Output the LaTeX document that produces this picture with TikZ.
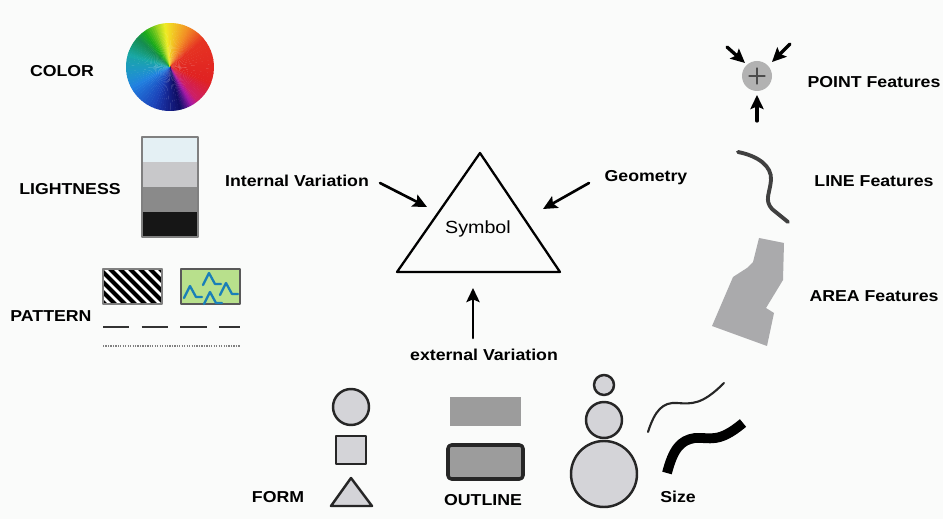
\documentclass[tikz,border=0pt]{standalone}
\usepackage{fontspec}
\setmainfont{Liberation Sans}
\newfontfamily\lblfont[FakeStretch=1.12]{Liberation Sans}
\usetikzlibrary{arrows.meta}
\definecolor{bgc}{RGB}{250,251,250}
\definecolor{lt1}{RGB}{228,240,244}
\definecolor{lt2}{RGB}{200,200,202}
\definecolor{lt3}{RGB}{138,138,138}
\definecolor{lt4}{RGB}{22,22,22}
\definecolor{patgreen}{RGB}{184,224,140}
\definecolor{patblue}{RGB}{26,127,184}
\definecolor{shpfill}{RGB}{212,212,216}
\definecolor{outfill}{RGB}{156,156,156}
\definecolor{areafill}{RGB}{170,170,172}
\tikzset{
  lbl/.style={font=\lblfont\bfseries\fontsize{9}{11}\selectfont, inner sep=0pt},
  shp/.style={draw=black!85, line width=1.4pt, fill=shpfill},
  arr/.style={->, line width=1.5pt},
}
\begin{document}
\begin{tikzpicture}[x=0.2mm, y=-0.2mm, line join=round, line cap=round, >={Stealth[length=8pt,width=7.5pt,inset=1.5pt]}]
	\fill[bgc] (0,0) rectangle (943,519);
	% left column
	\node[lbl] (color) at (62,71) {COLOR};
	\node[lbl] (light) at (70,189) {LIGHTNESS};
	\node[lbl] (patt) at (51,316) {PATTERN};
	\path (170,67) coordinate (W);
	\foreach \pa/\pb/\ha/\hb/\ba/\bb in {-5/25/55/30/0.95/0.95, 25/50/30/5/0.95/0.9, 50/110/5/0/0.9/0.88,
		110/140/0/-25/0.88/0.8, 140/165/-25/-120/0.8/0.4, 165/200/-120/-135/0.4/0.72,
		200/240/-135/-150/0.72/0.88, 240/280/-150/-175/0.88/0.68, 280/310/-175/-210/0.68/0.55,
		310/340/-210/-280/0.55/0.82, 340/355/-280/-305/0.82/0.95}
	\foreach \k in {0,...,9}{
		\pgfmathsetmacro\a{\pa+(\pb-\pa)*\k/10}
		\pgfmathsetmacro\da{(\pb-\pa)/10+0.6}
		\pgfmathsetmacro\hu{mod(\ha+(\hb-\ha)*\k/10+720,360)/360}
		\pgfmathsetmacro\br{\ba+(\bb-\ba)*\k/10}
		\definecolor{wc}{hsb}{\hu,0.85,\br}
		\fill[wc] (W) -- +(\a-90:44) -- +(\a+\da-90:44) -- cycle;
	}
	\foreach \c [count=\i from 0] in {lt1,lt2,lt3,lt4}
		\fill[\c] (142,137+25*\i) rectangle (198,162+25*\i);
	\draw[gray, line width=0.6pt] (142,137) rectangle (198,237);
	\begin{scope}
		\clip (103,269) rectangle (162,304);
		\fill[white] (103,269) rectangle (162,304);
		\foreach \s in {100,110,...,220}
		\draw[line width=2.3pt, line cap=butt] (\s-45,264) -- (\s,309);
	\end{scope}
	\draw[gray, line width=0.8pt] (103,269) rectangle (162,304);
	\draw[fill=patgreen, draw=gray!70!black, line width=0.8pt] (181,269) rectangle (240,304);
	\foreach \p in {(193,293),(212,280),(229,290),(213,299)}
	\draw[patblue, line width=1.3pt] \p ++(-9,5) -- ++(6,-12) -- ++(6,11) -- ++(6,0);
	\draw[line width=1.3pt, black!80, line cap=butt, dash pattern=on 15pt off 7pt] (103,327) -- (240,327);
	\draw[line width=1pt, gray, line cap=butt, dash pattern=on 0.7pt off 0.7pt] (103,346) -- (240,346);
	% symbol triangle
	\path
	(480,153) coordinate (T1)
	(560,272) coordinate (T2)
	(397,272) coordinate (T3);
	\draw[line width=1.3pt] (T1) -- (T2) -- (T3) -- cycle;
	\node[font=\lblfont\fontsize{10}{12}\selectfont] (sym) at (478,229) {Symbol};
	\node[lbl] (intv) at (297,181) {Internal Variation};
	\node[lbl] (geom) at (646,178) {Geometry};
	\node[lbl] (extv) at (484,355) {external Variation};
	\path
	(380,183) coordinate (iv1) (427,207) coordinate (iv2)
	(589,183) coordinate (ge1) (543,209) coordinate (ge2)
	(473,338) coordinate (ev1) (473,288) coordinate (ev2);
	\draw[arr] (iv1) -- (iv2);
	\draw[arr] (ge1) -- (ge2);
	\draw[arr] (ev1) -- (ev2);
	% right column
	\node[lbl] (pointf) at (874,82) {POINT Features};
	\node[lbl] (linef) at (874,181) {LINE Features};
	\node[lbl] (areaf) at (874,296) {AREA Features};
	\path (757,76) coordinate (P)
	(727,47) coordinate (pa1) (745,63) coordinate (pb1)
	(790,44) coordinate (pa2) (772,62) coordinate (pb2)
	(757,121) coordinate (pa3) (757,95) coordinate (pb3);
	\fill[gray!60] (P) circle (15);
	\draw[line width=0.6pt, black!70] (749,76) -- (765,76) (757,68) -- (757,84);
	\foreach \i in {1,2,3}
	\draw[arr, line width=1.9pt] (pa\i) -- (pb\i);
	\draw[line width=2.2pt, black!75] (738,152) .. controls (758,156) and (772,166) .. (771,180)
	.. controls (770,193) and (764,200) .. (772,209) -- (788,222);
	\fill[areafill] (759,238) -- (784,243) -- (783,280) -- (766,308) -- (774,313) -- (767,346)
	-- (712,326) -- (733,277) -- (747,268) -- (753,262) -- cycle;
	% bottom row
	\node[lbl] (form) at (278,497) {FORM};
	\node[lbl] (outl) at (483,500) {OUTLINE};
	\node[lbl] (size) at (678,497) {Size};
	\draw[shp] (351,407) circle (18);
	\draw[shp] (336,436) rectangle (366,464);
	\draw[shp] (351,478) -- (372,506) -- (331,506) -- cycle;
	\fill[outfill] (450,397) rectangle (521,426);
	\draw[fill=outfill, draw=black!85, line width=2pt, rounded corners=2pt] (448,445) rectangle (523,479);
	\foreach \y/\r in {385/10, 420/18, 474/33}
	\draw[shp] (604,\y) circle (\r);
	\draw[line width=1.2pt, black!85] (648,432) .. controls (655,410) and (663,402) .. (677,403)
	.. controls (692,404) and (702,405) .. (724,383);
	\draw[line width=5.6pt, line cap=butt] (667,473) .. controls (673,450) and (680,440) .. (695,438)
	.. controls (710,437) and (718,444) .. (743,423);
\end{tikzpicture}
\end{document}
